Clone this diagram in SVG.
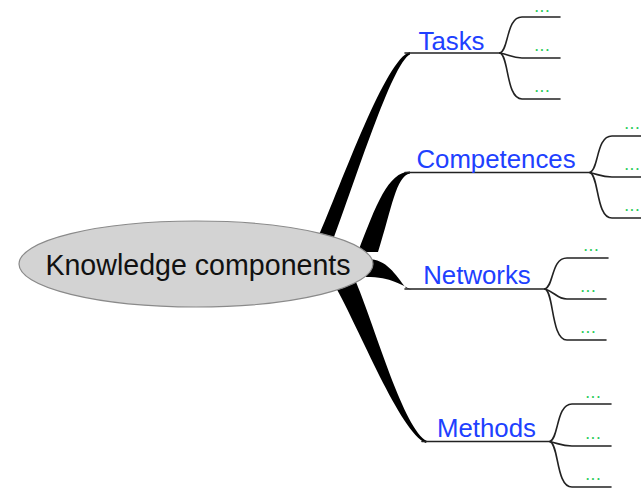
<svg xmlns="http://www.w3.org/2000/svg" width="641" height="489" viewBox="0 0 641 489">
  <style>
    .root-shape { fill: #d3d3d3; stroke: #8a8a8a; stroke-width: 1.2; }
    .root-label { font-family: "Liberation Sans", Arial, sans-serif; font-size: 28.6px; fill: #111; text-anchor: middle; }
    .topic { font-family: "Liberation Sans", Arial, sans-serif; font-size: 25.8px; fill: #2040ff; text-anchor: middle; }
    .leaf { font-family: "Liberation Sans", Arial, sans-serif; font-size: 12px; font-weight: bold; fill: #2ccc5a; text-anchor: middle; letter-spacing: 2px; }
    .trunk { fill: #000; }
    .line { fill: none; stroke: #222; stroke-width: 1.6; stroke-linecap: round; }
  </style>

  <g id="connectors">
    <!-- tapered main branches -->
    <path class="trunk" d="M 317 240 C 343 180, 386 58, 410 52 L 410 54.5 C 392 63, 355 182, 333 240 Z"/>
    <path class="trunk" d="M 358 252 C 376 205, 388 172, 410 171.5 L 410 173.5 C 396 176, 392 208, 378 252 Z"/>
    <path class="trunk" d="M 366 259 C 386 258, 395 274, 406 288 L 412 290 C 401 285, 392 277, 366 277 Z"/>
    <path class="trunk" d="M 334 284 C 360 330, 400 432, 426 443 L 427 441 C 404 430, 376 330, 356 282 Z"/>

    <!-- topic underlines -->
    <path class="line" d="M 405 53 L 500 53"/>
    <path class="line" d="M 405 172.5 L 590 172.5"/>
    <path class="line" d="M 405 289 L 545 289"/>
    <path class="line" d="M 422 441.5 L 550 441.5"/>

    <!-- Tasks leaves -->
    <path class="line" d="M 500 53 C 509 50, 506 17, 522 17 L 560 17"/>
    <path class="line" d="M 500 53 C 510 55, 512 58, 522 58 L 560 58"/>
    <path class="line" d="M 500 53 C 509 56, 506 99, 522 99 L 560 99"/>

    <!-- Competences leaves -->
    <path class="line" d="M 590 172.5 C 599 169, 596 136, 612 136 L 645 136"/>
    <path class="line" d="M 590 172.5 C 600 175, 602 177, 612 177 L 645 177"/>
    <path class="line" d="M 590 172.5 C 599 176, 596 218, 612 218 L 645 218"/>

    <!-- Networks leaves -->
    <path class="line" d="M 545 289 C 554 286, 551 258, 567 258 L 608 258"/>
    <path class="line" d="M 545 289 C 555 292, 557 299, 567 299 L 606 299"/>
    <path class="line" d="M 545 289 C 554 292, 551 340, 567 340 L 606 340"/>

    <!-- Methods leaves -->
    <path class="line" d="M 550 441.5 C 559 438, 556 404, 572 404 L 611 404"/>
    <path class="line" d="M 550 441.5 C 560 444, 562 446, 572 446 L 611 446"/>
    <path class="line" d="M 550 441.5 C 559 445, 556 487, 572 487 L 611 487"/>
  </g>

  <g id="knowledge-components">
    <ellipse class="root-shape" cx="196" cy="264" rx="177" ry="43"/>
    <text class="root-label" x="198" y="275">Knowledge components</text>
  </g>

  <g id="tasks">
    <text class="topic" x="451.5" y="50">Tasks</text>
    <text class="leaf" x="543" y="11.5">...</text>
    <text class="leaf" x="543" y="51">...</text>
    <text class="leaf" x="543" y="92">...</text>
  </g>

  <g id="competences">
    <text class="topic" x="496" y="168">Competences</text>
    <text class="leaf" x="633" y="129">...</text>
    <text class="leaf" x="633" y="170">...</text>
    <text class="leaf" x="633" y="211">...</text>
  </g>

  <g id="networks">
    <text class="topic" x="477" y="284">Networks</text>
    <text class="leaf" x="592" y="251">...</text>
    <text class="leaf" x="589" y="292">...</text>
    <text class="leaf" x="589" y="333">...</text>
  </g>

  <g id="methods">
    <text class="topic" x="486.5" y="437">Methods</text>
    <text class="leaf" x="594" y="398">...</text>
    <text class="leaf" x="594" y="439">...</text>
    <text class="leaf" x="594" y="480">...</text>
  </g>
</svg>
